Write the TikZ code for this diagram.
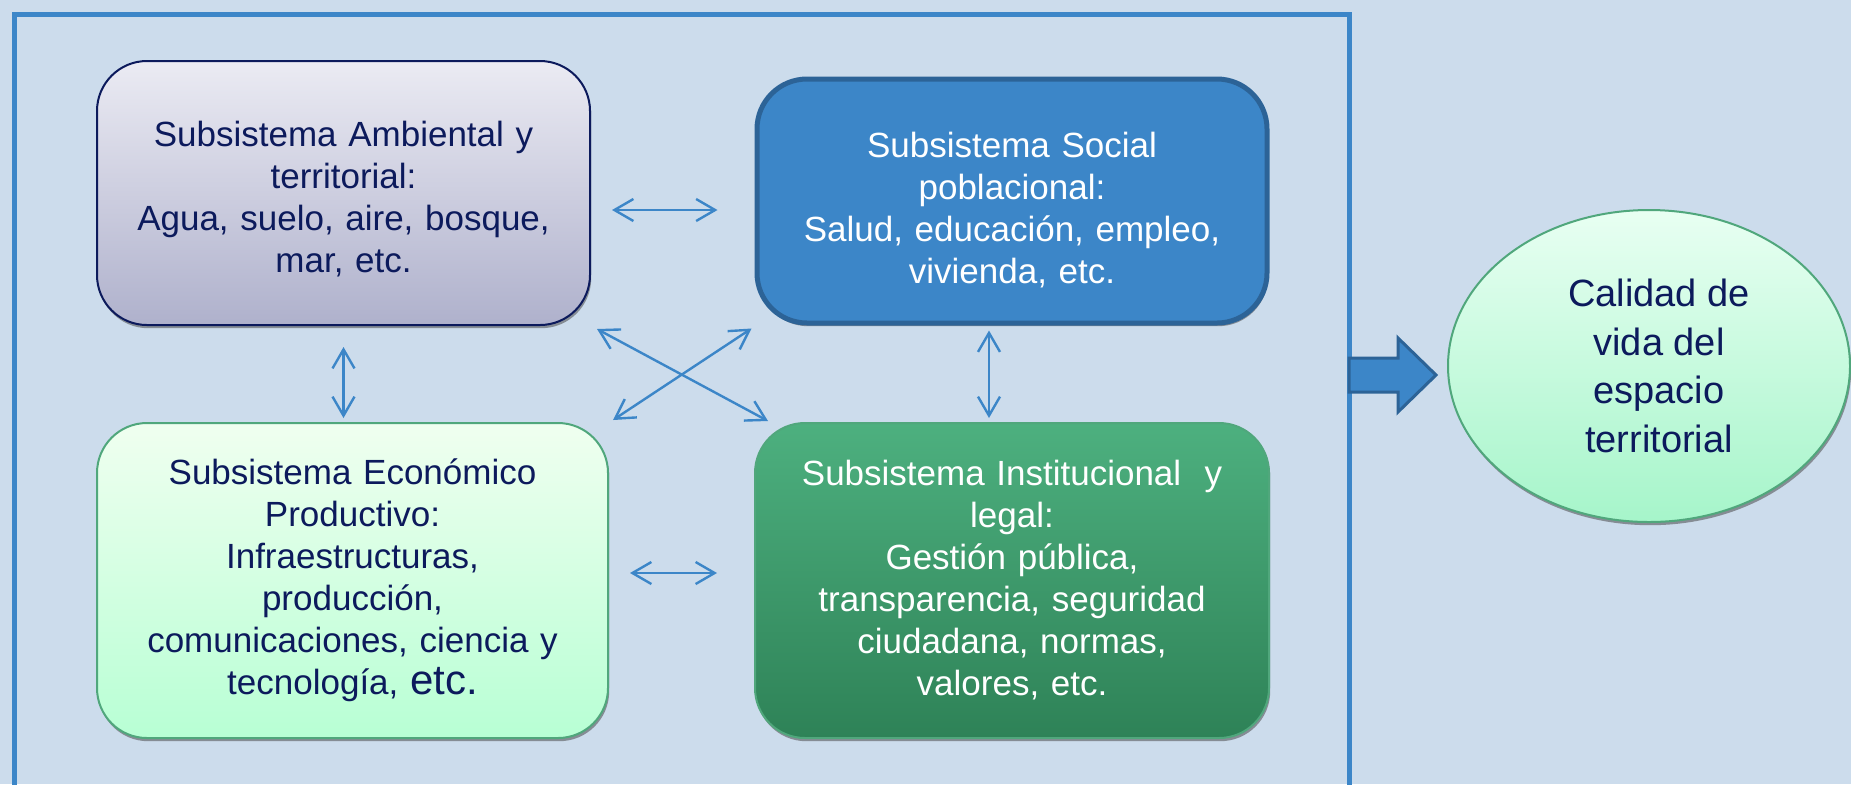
\documentclass[tikz,border=0pt]{standalone}
\usepackage{fontspec}
\setmainfont{Liberation Sans}
\usepackage{xcolor}
\usetikzlibrary{arrows.meta,shapes.geometric,shadows}
\definecolor{fondo}{HTML}{CCDCEC}
\definecolor{azul}{HTML}{3C86C8}
\definecolor{azuloscuro}{HTML}{2C6397}
\definecolor{marino}{HTML}{0C1A5C}
\definecolor{verdeborde}{HTML}{50A77C}

\begin{document}
\begin{tikzpicture}[x=0.5pt, y=-0.5pt,
    caja/.style={rounded corners=25pt, inner sep=0pt, align=center, text width=240pt,
        font=\fontsize{17.5}{21}\selectfont, text=marino, line width=1pt,
        drop shadow={shadow xshift=0.6pt, shadow yshift=-1.6pt, fill=black!70, opacity=0.55}},
    link/.style={{Straight Barb[length=9.5pt,width=11pt]}-{Straight Barb[length=9.5pt,width=11pt]},
        line width=1.2pt, azul}]
    \clip (0,0) rectangle (1851,784);
    \fill[fondo] (0,0) rectangle (1851,784);
    % marco del sistema
    \draw[azul, line width=2.5pt] (14,800) -- (14,14) -- (1349,14) -- (1349,800);
    % subsistemas
    \node[caja, draw=marino, top color={rgb,255:red,235;green,235;blue,243},
        bottom color={rgb,255:red,175;green,177;blue,204},
        minimum width=246.5pt, minimum height=132pt] (amb) at (343.5,193)
        {\rule{0pt}{19pt}Subsistema Ambiental y\\ territorial:\\ Agua, suelo, aire, bosque,\\ mar, etc.};
    \node[caja, draw=azuloscuro, fill=azul, text=white, line width=2.5pt,
        minimum width=255pt, minimum height=122pt] (soc) at (1012,201)
        {\rule{0pt}{22pt}Subsistema Social\\ poblacional:\\ Salud, educación, empleo,\\ vivienda, etc.};
    \node[caja, draw=verdeborde, top color=green!6!white, bottom color=green!60!cyan!28!white,
        minimum width=255.5pt, minimum height=157.5pt] (eco) at (352.5,580.5)
        {Subsistema Económico\\ Productivo:\\ Infraestructuras,\\ producción,\\ comunicaciones, ciencia y\\
        tecnología, {\fontsize{21}{21}\selectfont etc.}};
    \node[caja, draw=verdeborde, top color={rgb,255:red,77;green,176;blue,127},
        bottom color={rgb,255:red,46;green,130;blue,87}, text=white,
        minimum width=257pt, minimum height=157.5pt] (inst) at (1012,580.5)
        {Subsistema Institucional\ \ y\\ legal:\\ Gestión pública,\\ transparencia, seguridad\\
        ciudadana, normas,\\ valores, etc.};
    % resultado
    \node[ellipse, draw=verdeborde, line width=1pt, inner sep=0pt, align=center, text=marino,
        top color={rgb,255:red,232;green,255;blue,242}, bottom color={rgb,255:red,166;green,245;blue,202},
        minimum width=201pt, minimum height=156pt, font=\fontsize{19}{24.3}\selectfont,
        drop shadow={shadow xshift=0.6pt, shadow yshift=-1.6pt, fill=black!70, opacity=0.55}]
        (cal) at (1649,366) {\hspace*{10pt}Calidad de\\ \hspace*{10pt}vida del\\ \hspace*{10pt}espacio\\ \hspace*{10pt}territorial};
    % relaciones
    \draw[link, shorten <=10.5pt, shorten >=18.5pt] (amb.east |- 0,210) -- (soc.west |- 0,210);
    \draw[link, shorten <=10.5pt, shorten >=18.5pt] (eco.east |- 0,573) -- (inst.west |- 0,573);
    \draw[link, shorten <=10.5pt, shorten >=2pt] (amb.south) -- (amb.south |- eco.north);
    \draw[link, shorten <=2.5pt, shorten >=2pt] (soc.south -| 989,0) -- (inst.north -| 989,0);
    \draw[link] ([xshift=3pt,yshift=-1.5pt]amb.south east) -- ([xshift=7pt,yshift=0.5pt]inst.north west);
    \draw[link] ([xshift=2pt,yshift=1pt]eco.north east) -- ([xshift=-1.5pt,yshift=-1.5pt]soc.south west);
    % flecha hacia la calidad de vida
    \draw[fill=azul, draw=azuloscuro, line width=1.5pt] (1349,358) -- (1398,358) -- (1398,338)
        -- (1436,375) -- (1398,412) -- (1398,392) -- (1349,392) -- cycle;
\end{tikzpicture}
\end{document}
